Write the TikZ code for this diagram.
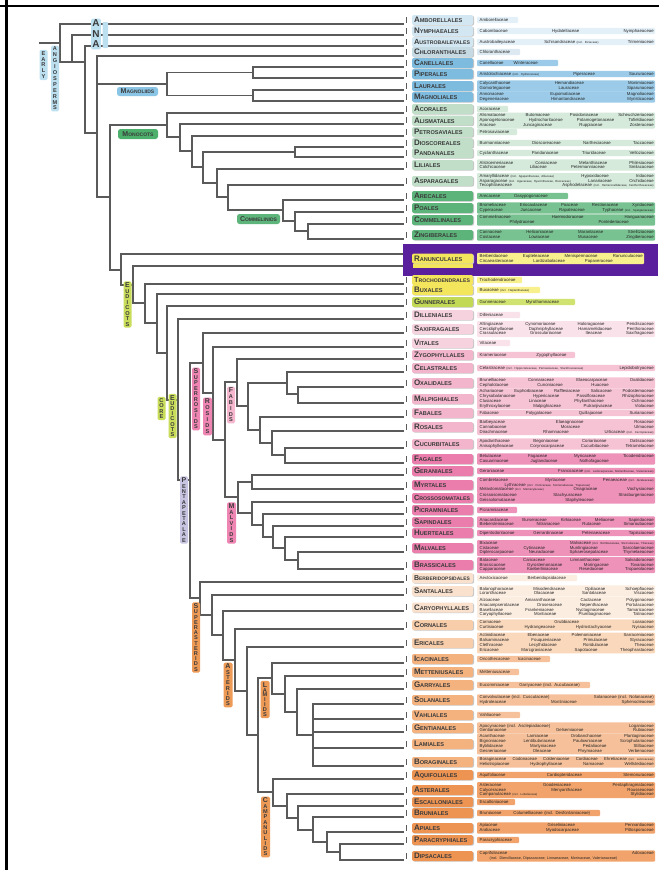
\documentclass[tikz,border=0pt]{standalone}
\usepackage{fontspec}
\usepackage{graphicx}
\setmainfont{Liberation Sans}
\definecolor{treeg}{HTML}{5A5A5A}
\definecolor{anaO}{HTML}{D3E7F2}\definecolor{anaF}{HTML}{E3F0F8}
\definecolor{chlO}{HTML}{C6DAE4}\definecolor{chlF}{HTML}{DCE9F0}
\definecolor{magO}{HTML}{7DBBDF}\definecolor{magF}{HTML}{9BCBE8}
\definecolor{monO}{HTML}{C0DEC8}\definecolor{monF}{HTML}{D5EADB}
\definecolor{comO}{HTML}{5DB47B}\definecolor{comF}{HTML}{78C291}
\definecolor{eudO}{HTML}{F3E55C}\definecolor{eudF}{HTML}{F8F08C}
\definecolor{gunO}{HTML}{C2D955}\definecolor{gunF}{HTML}{D0E370}
\definecolor{srO}{HTML}{F6D2DE}\definecolor{srF}{HTML}{FAE2EA}
\definecolor{fabO}{HTML}{F3B5CB}\definecolor{fabF}{HTML}{F6C3D5}
\definecolor{malO}{HTML}{EA7DAC}\definecolor{malF}{HTML}{EE92B9}
\definecolor{saO}{HTML}{FAE1CE}\definecolor{saF}{HTML}{FCEDE1}
\definecolor{astO}{HTML}{F8CDAA}\definecolor{astF}{HTML}{FAD8BC}
\definecolor{lamO}{HTML}{F4B27F}\definecolor{lamF}{HTML}{F6C19A}
\definecolor{camO}{HTML}{EE9453}\definecolor{camF}{HTML}{F1A36B}
\definecolor{ordtxt}{HTML}{3A3A3A}
\definecolor{famtxt}{HTML}{262626}
\definecolor{labA}{HTML}{BDE0F0}
\definecolor{labM}{HTML}{8AC5E5}
\definecolor{labMo}{HTML}{4CAF6C}
\definecolor{labC}{HTML}{5EB57C}
\definecolor{labE}{HTML}{C9DD5B}
\definecolor{labR}{HTML}{EE85B3}
\definecolor{labF}{HTML}{F5B6CE}
\definecolor{labP}{HTML}{C8C5E2}
\definecolor{labS}{HTML}{EE9A57}
\definecolor{purp}{HTML}{5A1F9D}
\newsavebox{\obx}
\newcommand{\fitord}[1]{\sbox{\obx}{#1}\ifdim\wd\obx>56pt\resizebox{56pt}{!}{\usebox{\obx}}\else\usebox{\obx}\fi}
\newcommand{\inc}[1]{{\fontsize{2.9}{3}\selectfont #1}}
\newcommand{\fl}[1]{{\fontsize{8}{8}\selectfont #1}}
\newcommand{\fv}[1]{{\fontsize{7}{6}\selectfont #1}}
\newcommand{\vseg}[3]{\draw[tree] (#1,#2) -- (#1,#3);}
\newcommand{\hseg}[3]{\draw[tree] (#1,#3) -- (#2,#3);}
\newcommand{\term}[2]{\draw[tree] (#1,#2) -- (403,#2);}
\newcommand{\orow}[8]{%
  \pgfmathsetmacro{\hh}{#7*2.4+0.8}%
  \pgfmathsetmacro{\tw}{#6-481}%
  \fill[black!22, rounded corners=2pt] (413,#1-4.3) rectangle (474,#1+5.7);
  \node[obox, fill=#2] (o#4#5) at (442.5,#1) {\fitord{\fl{#4}{\fontsize{5.6}{7}\selectfont #5}}};
  \fill[#3, rounded corners=1pt] (477,#1-\hh) rectangle (#6,#1+\hh);
  \node[ftext, text width=\tw pt] (f#4#5) at (479.5,#1) {#8};
}
\tikzset{
  tree/.style={draw=treeg, line width=1.1pt, line cap=rect},
  obox/.style={rounded corners=2pt, minimum height=10pt, text width=57pt, inner xsep=2pt, inner ysep=0pt, align=left, text=ordtxt, font=\bfseries},
  ftext/.style={anchor=west, inner sep=0pt, align=left, text=famtxt, font=\fontsize{4.3}{4.8}\selectfont},
  vlab/.style={rounded corners=1.5pt, inner xsep=1.2pt, inner ysep=1.5pt, align=center, text=ordtxt},
  hlab/.style={rounded corners=2.5pt, inner sep=1pt, text=ordtxt, font=\bfseries\fontsize{5}{5}\selectfont},
}
\begin{document}
\begin{tikzpicture}[x=1pt,y=-1pt]
\useasboundingbox (0,0) rectangle (659,870);
\fill[white] (0,0) rectangle (659,870);
% frame
\draw[black, line width=2.6pt] (0,6) -- (659,6);
\draw[black, line width=2.6pt] (6.5,0) -- (6.5,870);

% ---------- tree ----------
% basal
\hseg{40}{60}{43}
\vseg{60}{24}{62}\term{60}{24}
\hseg{60}{85}{62}
\vseg{72}{35}{62}\term{72}{35}
\vseg{85}{46}{133}\term{85}{46}
\hseg{85}{97}{133}
\vseg{97}{56}{197}\term{97}{56}
% magnoliids
\hseg{97}{167}{84}\vseg{167}{72.5}{95.5}
\hseg{167}{253}{72.5}\vseg{253}{67}{78}\term{253}{67}\term{253}{78}
\hseg{167}{253}{95.5}\vseg{253}{90}{101}\term{253}{90}\term{253}{101}
% monocots + eudicots
\hseg{97}{110}{197}\vseg{110}{125}{270}
\hseg{110}{167}{125}\vseg{167}{113}{137}\term{167}{113}
\hseg{167}{180}{137}\vseg{180}{124}{151}\term{180}{124}
\hseg{180}{192}{151}\vseg{192}{136}{167}\term{192}{136}
\hseg{192}{203}{167}\vseg{203}{152}{183}
\hseg{203}{295}{152}\vseg{295}{147}{157}\term{295}{147}\term{295}{157}
\hseg{203}{217}{183}\vseg{217}{169}{197}\term{217}{169}
\hseg{217}{228}{197}\vseg{228}{185}{210}\term{228}{185}
\hseg{228}{283}{210}\vseg{283}{200}{221}\term{283}{200}
\hseg{283}{295}{221}\vseg{295}{212}{231}\term{295}{212}
\hseg{295}{308}{231}\vseg{308}{224}{239}\term{308}{224}\term{308}{239}
% eudicots
\hseg{110}{121}{270}\vseg{121}{254}{285}\term{121}{254}
\hseg{121}{133}{285}\vseg{133}{266}{303}\term{133}{266}
\hseg{133}{145}{303}\vseg{145}{284}{323}\term{145}{284}
\hseg{145}{157}{323}\vseg{157}{294}{353}\term{157}{294}
\hseg{157}{167}{353}\vseg{167}{306}{400}\term{167}{306}
\hseg{167}{178}{400}\vseg{178}{319}{480}\term{178}{319}
\hseg{178}{190}{480}\vseg{190}{363}{598}
% superrosids
\hseg{190}{203}{363}\vseg{203}{333}{393}\term{203}{333}
\hseg{203}{213}{393}\vseg{213}{347}{440}\term{213}{347}
\hseg{213}{225}{440}\vseg{225}{382}{497}
% fabids
\hseg{225}{237}{382}\vseg{237}{359}{406}\term{237}{359}
\hseg{237}{248}{406}\vseg{248}{383}{430}
\hseg{248}{287}{383}\vseg{287}{372}{394}\term{287}{372}
\hseg{287}{298}{394}\vseg{298}{387}{403}\term{298}{387}\term{298}{403}
\hseg{248}{260}{430}\vseg{260}{417}{443}\term{260}{417}
\hseg{260}{272}{443}\vseg{272}{431}{455}\term{272}{431}
\hseg{272}{285}{455}\vseg{285}{448}{463}\term{285}{448}\term{285}{463}
% malvids
\hseg{225}{238}{497}\vseg{238}{482}{513}
\hseg{238}{252}{482}\vseg{252}{475}{489}\term{252}{475}\term{252}{489}
\hseg{238}{252}{513}\vseg{252}{502}{525}\term{252}{502}
\hseg{252}{263}{525}\vseg{263}{514}{537}\term{263}{514}
\hseg{263}{273}{537}\vseg{273}{526}{548}\term{273}{526}
\hseg{273}{285}{548}\vseg{285}{537}{560}\term{285}{537}
\hseg{285}{298}{560}\vseg{298}{552}{569}\term{298}{552}\term{298}{569}
% superasterids
\hseg{190}{200}{598}\vseg{200}{582}{615}\term{200}{582}
\hseg{200}{212}{615}\vseg{212}{595}{635}\term{212}{595}
\hseg{212}{223}{635}\vseg{223}{611}{660}\term{223}{611}
\hseg{223}{235}{660}\vseg{235}{629}{691}\term{235}{629}
\hseg{235}{247}{691}\vseg{247}{647}{735}\term{247}{647}
\hseg{247}{258}{735}\vseg{258}{678}{792}
% lamiids
\hseg{258}{272}{678}\vseg{272}{663}{694}\term{272}{663}
\hseg{272}{285}{694}\vseg{285}{676}{712}\term{285}{676}
\hseg{285}{297}{712}\vseg{297}{689}{735}\term{297}{689}
\hseg{297}{313}{735}\vseg{313}{704}{766}
\term{313}{704}\term{313}{719}\term{313}{732}\term{313}{748}\term{313}{766}
% campanulids
\hseg{258}{273}{792}\vseg{273}{779}{806}\term{273}{779}
\hseg{273}{287}{806}\vseg{287}{794}{818}\term{287}{794}
\hseg{287}{298}{818}\vseg{298}{806}{830}\term{298}{806}
\hseg{298}{313}{830}\vseg{313}{817}{842}\term{313}{817}
\hseg{313}{327}{842}\vseg{327}{832}{852}\term{327}{832}
\hseg{327}{340}{852}\vseg{340}{844}{860}\term{340}{844}\term{340}{860}

% ticks
\foreach \yy in {20,31,42,52,63,74,86,97,109,120,132,143,153,165,181,196,208,220,235,280,290,302,315,329,343,355,368,383,399,413,427,444,459,471,485,498,510,522,533,548,565,578,591,607,625,643,659,672,685,700,715,728,744,762,775,790,802,813,828,840,856}
  \draw[treeg, line width=0.9pt] (406,\yy-3) -- (406,\yy+3);

% purple highlight
\fill[purp] (403,244) rectangle (658,276);
\fill[eudO] (413,263.5) rectangle (473,267.5);

% ---------- orders ----------
\orow{20}{anaO}{anaF}{A}{MBORELLALES}{518}{1}{Amborellaceae}
\orow{31}{anaO}{anaF}{N}{YMPHAEALES}{655}{1}{Cabombaceae\hfill Hydatellaceae\hfill Nymphaeaceae}
\orow{42}{anaO}{anaF}{A}{USTROBAILEYALES}{655}{1}{Austrobaileyaceae\hfill Schisandraceae \inc{(incl. Illiciaceae)}\hfill Trimeniaceae}
\orow{52}{chlO}{chlF}{C}{HLORANTHALES}{520}{1}{Chloranthaceae}
\orow{63}{magO}{magF}{C}{ANELLALES}{558}{1}{Canellaceae\hspace{10pt}Winteraceae}
\orow{74}{magO}{magF}{P}{IPERALES}{655}{1}{Aristolochiaceae \inc{(incl. Hydnoraceae)}\hfill Piperaceae\hfill Saururaceae}
\orow{86}{magO}{magF}{L}{AURALES}{655}{2}{Calycanthaceae\hfill Hernandiaceae\hfill Monimiaceae\\Gomortegaceae\hfill Lauraceae\hfill Siparunaceae}
\orow{97}{magO}{magF}{M}{AGNOLIALES}{655}{2}{Annonaceae\hfill Eupomatiaceae\hfill Magnoliaceae\\Degeneriaceae\hfill Himantandraceae\hfill Myristicaceae}
\orow{109}{monO}{monF}{A}{CORALES}{508}{1}{Acoraceae}
\orow{120.5}{monO}{monF}{A}{LISMATALES}{655}{3}{Alismataceae\hfill Butomaceae\hfill Posidoniaceae\hfill Scheuchzeriaceae\\Aponogetonaceae\hfill Hydrocharitaceae\hfill Potamogetonaceae\hfill Tofieldiaceae\\Araceae\hfill Juncaginaceae\hfill Ruppiaceae\hfill Zosteraceae}
\orow{132}{monO}{monF}{P}{ETROSAVIALES}{517}{1}{Petrosaviaceae}
\orow{143}{monO}{monF}{D}{IOSCOREALES}{655}{1}{Burmanniaceae\hfill Dioscoreaceae\hfill Nartheciaceae\hfill Taccaceae}
\orow{153}{monO}{monF}{P}{ANDANALES}{655}{1}{Cyclanthaceae\hfill Pandanaceae\hfill Triuridaceae\hfill Velloziaceae}
\orow{165}{monO}{monF}{L}{ILIALES}{655}{2}{Alstroemeriaceae\hfill Corsiaceae\hfill Melanthiaceae\hfill Philesiaceae\\Colchicaceae\hfill Liliaceae\hfill Petermanniaceae\hfill Smilacaceae}
\orow{181}{monO}{monF}{A}{SPARAGALES}{655}{3}{Amaryllidaceae \inc{(incl. Agapanthaceae, Alliaceae)}\hfill Hypoxidaceae\hfill Iridaceae\\Asparagaceae \inc{(incl. Agavaceae, Hyacinthaceae, Ruscaceae)}\hfill Lanariaceae\hfill Orchidaceae\\Tecophilaeaceae\hfill Asphodelaceae \inc{(incl. Hemerocallidaceae, Xanthorrhoeaceae)}}
\orow{196}{comO}{comF}{A}{RECALES}{568}{1}{Arecaceae\hspace{14pt}Dasypogonaceae}
\orow{208}{comO}{comF}{P}{OALES}{655}{2}{Bromeliaceae\hfill Eriocaulaceae\hfill Poaceae\hfill Restionaceae\hfill Xyridaceae\\Cyperaceae\hfill Juncaceae\hfill Rapateaceae\hfill Typhaceae \inc{(incl. Sparganiaceae)}}
\orow{220}{comO}{comF}{C}{OMMELINALES}{655}{2}{Commelinaceae\hfill Haemodoraceae\hfill Hanguanaceae\\\hspace*{30pt}Philydraceae\hfill Pontederiaceae\hspace*{25pt}}
\orow{235}{comO}{comF}{Z}{INGIBERALES}{655}{2}{Cannaceae\hfill Heliconiaceae\hfill Marantaceae\hfill Strelitziaceae\\Costaceae\hfill Lowiaceae\hfill Musaceae\hfill Zingiberaceae}
\orow{258.5}{eudO}{eudF}{R}{ANUNCULALES}{644}{2}{Berberidaceae\hfill Eupteleaceae\hfill Menispermaceae\hfill Ranunculaceae\\Circaeasteraceae\hfill Lardizabalaceae\hfill Papaveraceae\hspace*{30pt}}
\orow{280}{eudO}{eudF}{T}{ROCHODENDRALES}{522}{1}{Trochodendraceae}
\orow{290}{eudO}{eudF}{B}{UXALES}{540}{1}{Buxaceae \inc{(incl. Haptanthaceae)}}
\orow{302}{gunO}{gunF}{G}{UNNERALES}{575}{1}{Gunneraceae\hspace{20pt}Myrothamnaceae}
\orow{315}{srO}{srF}{D}{ILLENIALES}{520}{1}{Dilleniaceae}
\orow{329}{srO}{srF}{S}{AXIFRAGALES}{655}{3}{Altingiaceae\hfill Cynomoriaceae\hfill Haloragaceae\hfill Peridiscaceae\\Cercidiphyllaceae\hfill Daphniphyllaceae\hfill Hamamelidaceae\hfill Penthoraceae\\Crassulaceae\hfill Grossulariaceae\hfill Iteaceae\hfill Saxifragaceae}
\orow{343}{srO}{srF}{V}{ITALES}{510}{1}{Vitaceae}
\orow{355}{fabO}{fabF}{Z}{YGOPHYLLALES}{575}{1}{Krameriaceae\hspace{30pt}Zygophyllaceae}
\orow{368}{fabO}{fabF}{C}{ELASTRALES}{655}{1}{Celastraceae \inc{(incl. Hippocrateaceae, Parnassiaceae, Stackhousiaceae)}\hfill Lepidobotryaceae}
\orow{383}{fabO}{fabF}{O}{XALIDALES}{655}{2}{Brunelliaceae\hfill Connaraceae\hfill Elaeocarpaceae\hfill Oxalidaceae\\Cephalotaceae\hfill Cunoniaceae\hfill Huaceae\hspace*{45pt}}
\orow{399}{fabO}{fabF}{M}{ALPIGHIALES}{655}{4}{Achariaceae\hfill Euphorbiaceae\hfill Rafflesiaceae\hfill Salicaceae\hfill Podostemaceae\\Chrysobalanaceae\hfill Hypericaceae\hfill Passifloraceae\hfill Rhizophoraceae\\Clusiaceae\hfill Linaceae\hfill Phyllanthaceae\hfill Ochnaceae\\Erythroxylaceae\hfill Malpighiaceae\hfill Putranjivaceae\hfill Violaceae}
\orow{413}{fabO}{fabF}{F}{ABALES}{655}{1}{Fabaceae\hfill Polygalaceae\hfill Quillajaceae\hfill Surianaceae}
\orow{427}{fabO}{fabF}{R}{OSALES}{655}{3}{Barbeyaceae\hfill Elaeagnaceae\hfill Rosaceae\hspace*{25pt}\\Cannabaceae\hfill Moraceae\hfill Ulmaceae\hspace*{25pt}\\Dirachmaceae\hfill Rhamnaceae\hfill Urticaceae \inc{(incl. Cecropiaceae)}}
\orow{444}{fabO}{fabF}{C}{UCURBITALES}{655}{2}{Apodanthaceae\hfill Begoniaceae\hfill Coriariaceae\hfill Datiscaceae\\Anisophylleaceae\hfill Corynocarpaceae\hfill Cucurbitaceae\hfill Tetramelaceae}
\orow{459}{malO}{malF}{F}{AGALES}{655}{2}{Betulaceae\hfill Fagaceae\hfill Myricaceae\hfill Ticodendraceae\\Casuarinaceae\hfill Juglandaceae\hfill Nothofagaceae\hspace*{45pt}}
\orow{471}{malO}{malF}{G}{ERANIALES}{655}{1}{Geraniaceae\hfill Francoaceae \inc{(incl. Ledocarpaceae, Melianthaceae, Vivianiaceae)}}
\orow{485}{malO}{malF}{M}{YRTALES}{655}{3}{Combretaceae\hfill Myrtaceae\hfill Penaeaceae \inc{(incl. Alzateaceae)}\\\hspace*{25pt}Lythraceae \inc{(incl. Punicaceae, Sonneratiaceae, Trapaceae)}\hfill\null\\Melastomataceae \inc{(incl. Memecylaceae)}\hfill Onagraceae\hfill Vochysiaceae}
\orow{498}{malO}{malF}{C}{ROSSOSOMATALES}{655}{2}{Crossosomataceae\hfill Stachyuraceae\hfill Strasburgeriaceae\\Geissolomataceae\hfill Staphyleaceae\hspace*{60pt}}
\orow{510}{malO}{malF}{P}{ICRAMNIALES}{517}{1}{Picramniaceae}
\orow{522}{malO}{malF}{S}{APINDALES}{655}{2}{Anacardiaceae\hfill Burseraceae\hfill Kirkiaceae\hfill Meliaceae\hfill Sapindaceae\\Biebersteiniaceae\hfill Nitrariaceae\hfill Rutaceae\hfill Simaroubaceae}
\orow{533}{malO}{malF}{H}{UERTEALES}{655}{1}{Dipentodontaceae\hfill Gerrardinaceae\hfill Petenaeaceae\hfill Tapisciaceae}
\orow{548}{malO}{malF}{M}{ALVALES}{655}{3}{Bixaceae\hfill Malvaceae \inc{(incl. Bombacaceae, Sterculiaceae, Tiliaceae)}\\Cistaceae\hfill Cytinaceae\hfill Muntingiaceae\hfill Sarcolaenaceae\\Dipterocarpaceae\hfill Neuradaceae\hfill Sphaerosepalaceae\hfill Thymelaeaceae}
\orow{565}{malO}{malF}{B}{RASSICALES}{655}{3}{Bataceae\hfill Caricaceae\hfill Limnanthaceae\hfill Salvadoraceae\\Brassicaceae\hfill Gyrostemonaceae\hfill Moringaceae\hfill Tovariaceae\\Capparaceae\hfill Koeberliniaceae\hfill Resedaceae\hfill Tropaeolaceae}
\orow{578}{saO}{saF}{B}{ERBERIDOPSIDALES}{577}{1}{Aextoxicaceae\hspace{20pt}Berberidopsidaceae}
\orow{591}{saO}{saF}{S}{ANTALALES}{655}{2}{Balanophoraceae\hfill Misodendraceae\hfill Opiliaceae\hfill Schoepfiaceae\\Loranthaceae\hfill Olacaceae\hfill Santalaceae\hfill Viscaceae}
\orow{607.5}{saO}{saF}{C}{ARYOPHYLLALES}{655}{4}{Aizoaceae\hfill Amaranthaceae\hfill Cactaceae\hfill Polygonaceae\\Anacampserotaceae\hfill Droseraceae\hfill Nepenthaceae\hfill Portulacaceae\\Basellaceae\hfill Frankeniaceae\hfill Nyctaginaceae\hfill Tamaricaceae\\Caryophyllaceae\hfill Montiaceae\hfill Plumbaginaceae\hfill Talinaceae}
\orow{625}{astO}{astF}{C}{ORNALES}{655}{2}{Cornaceae\hfill Grubbiaceae\hfill Loasaceae\\Curtisiaceae\hfill Hydrangeaceae\hfill Hydrostachyaceae\hfill Nyssaceae}
\orow{643}{astO}{astF}{E}{RICALES}{655}{4}{Actinidiaceae\hfill Ebenaceae\hfill Polemoniaceae\hfill Sarraceniaceae\\Balsaminaceae\hfill Fouquieriaceae\hfill Primulaceae\hfill Styracaceae\\Clethraceae\hfill Lecythidaceae\hfill Roridulaceae\hfill Theaceae\\Ericaceae\hfill Marcgraviaceae\hfill Sapotaceae\hfill Theophrastaceae}
\orow{659}{lamO}{lamF}{I}{CACINALES}{550}{1}{Oncothecaceae\hspace{8pt}Icacinaceae}
\orow{672}{lamO}{lamF}{M}{ETTENIUSALES}{519}{1}{Metteniusaceae}
\orow{685}{lamO}{lamF}{G}{ARRYALES}{590}{1}{Eucommiaceae\hspace{10pt}Garryaceae (incl. Aucubaceae)}
\orow{700}{lamO}{lamF}{S}{OLANALES}{655}{2}{Convolvulaceae (incl. Cuscutaceae)\hfill Solanaceae (incl. Nolanaceae)\\Hydroleaceae\hfill Montiniaceae\hfill Sphenocleaceae}
\orow{715}{lamO}{lamF}{V}{AHLIALES}{520}{1}{Vahliaceae}
\orow{728}{lamO}{lamF}{G}{ENTIANALES}{655}{2}{Apocynaceae (incl. Asclepiadaceae)\hfill Loganiaceae\\Gentianaceae\hfill Gelsemiaceae\hfill Rubiaceae}
\orow{744}{lamO}{lamF}{L}{AMIALES}{655}{4}{Acanthaceae\hfill Lamiaceae\hfill Orobanchaceae\hfill Plantaginaceae\\Bignoniaceae\hfill Lentibulariaceae\hfill Paulowniaceae\hfill Scrophulariaceae\\Byblidaceae\hfill Martyniaceae\hfill Pedaliaceae\hfill Stilbaceae\\Gesneriaceae\hfill Oleaceae\hfill Phrymaceae\hfill Verbenaceae}
\orow{762}{lamO}{lamF}{B}{ORAGINALES}{655}{2}{Boraginaceae\hfill Codonaceae\hfill Coldeniaceae\hfill Cordiaceae\hfill Ehretiaceae \inc{(incl. Lennoaceae)}\\Heliotropiaceae\hfill Hydrophyllaceae\hfill Namaceae\hfill Wellstediaceae}
\orow{775}{camO}{camF}{A}{QUIFOLIALES}{655}{1}{Aquifoliaceae\hfill Cardiopteridaceae\hfill Stemonuraceae}
\orow{790}{camO}{camF}{A}{STERALES}{655}{3}{Asteraceae\hfill Goodeniaceae\hfill Pentaphragmataceae\\Calyceraceae\hfill Menyanthaceae\hfill Rousseaceae\\Campanulaceae \inc{(incl. Lobeliaceae)}\hfill Stylidiaceae}
\orow{802}{camO}{camF}{E}{SCALLONIALES}{515}{1}{Escalloniaceae}
\orow{813}{camO}{camF}{B}{RUNIALES}{600}{1}{Bruniaceae\hspace{12pt}Columelliaceae (incl. Desfontainiaceae)}
\orow{828}{camO}{camF}{A}{PIALES}{655}{2}{Apiaceae\hfill Griseliniaceae\hfill Pennantiaceae\\Araliaceae\hfill Myodocarpaceae\hfill Pittosporaceae}
\orow{840}{camO}{camF}{P}{ARACRYPHIALES}{519}{1}{Paracryphiaceae}
\orow{856}{camO}{camF}{D}{IPSACALES}{655}{2}{Caprifoliaceae\hfill Adoxaceae\\\hspace*{10pt}{\fontsize{3.7}{4.8}\selectfont (incl. Diervillaceae, Dipsacaceae, Linnaeaceae, Morinaceae, Valerianaceae)}}

% ---------- clade labels ----------
\node[vlab, fill=labA, minimum width=8pt, font=\bfseries\fontsize{5.6}{5.8}\selectfont] (early) at (43.5,65) {E\\A\\R\\L\\Y};
\node[vlab, fill=labA, minimum width=8pt, font=\bfseries\fontsize{5.6}{5.9}\selectfont] (angio) at (55,78.5) {A\\N\\G\\I\\O\\S\\P\\E\\R\\M\\S};
\node[vlab, fill=labA, minimum width=9pt, font=\bfseries\fontsize{10}{10.5}\selectfont] (ana) at (96,34) {A\\N\\A};
\fill[labA, rounded corners=1pt] (102.5,22) rectangle (108,48);
\node[hlab, fill=labM, minimum width=41pt, minimum height=9pt] (magl) at (137.5,91.5) {\fv{M}AGNOLIIDS};
\node[hlab, fill=labMo, minimum width=40pt, minimum height=10pt] (monol) at (138,134) {\fv{M}ONOCOTS};
\node[hlab, fill=labC, minimum width=43pt, minimum height=10pt] (comml) at (258.5,219) {\fv{C}OMMELINIDS};
\node[vlab, fill=labE, minimum width=8pt, font=\bfseries\fontsize{5.6}{5.5}\selectfont] (eudl) at (127.5,304.5) {\fv{E}\\U\\D\\I\\C\\O\\T\\S};
\node[vlab, fill=labE, minimum width=8pt, font=\bfseries\fontsize{5.6}{5.5}\selectfont] (corel) at (161.5,408.5) {C\\O\\R\\E};
\node[vlab, fill=labE, minimum width=8pt, font=\bfseries\fontsize{5.6}{5.2}\selectfont] (ceudl) at (172.5,416) {\fv{E}\\U\\D\\I\\C\\O\\T\\S};
\node[vlab, fill=labR, minimum width=8pt, font=\bfseries\fontsize{5.6}{5.5}\selectfont] (srl) at (196,399) {\fv{S}\\U\\P\\E\\R\\R\\O\\S\\I\\D\\S};
\node[vlab, fill=labR, minimum width=9pt, font=\bfseries\fontsize{5.6}{6}\selectfont] (rosl) at (207.5,416.5) {\fv{R}\\O\\S\\I\\D\\S};
\node[vlab, fill=labF, minimum width=8pt, font=\bfseries\fontsize{5.6}{5.8}\selectfont] (fabl) at (231,405) {\fv{F}\\A\\B\\I\\D\\S};
\node[vlab, fill=labR, minimum width=9pt, font=\bfseries\fontsize{5.6}{5.6}\selectfont] (malvl) at (231.5,523) {\fv{M}\\A\\L\\V\\I\\D\\S};
\node[vlab, fill=labP, minimum width=8pt, font=\bfseries\fontsize{5.6}{5.4}\selectfont] (pentl) at (184,510) {\fv{P}\\E\\N\\T\\A\\P\\E\\T\\A\\L\\A\\E};
\node[vlab, fill=labS, minimum width=8pt, font=\bfseries\fontsize{5.6}{5.2}\selectfont] (sal) at (196,637.5) {\fv{S}\\U\\P\\E\\R\\A\\S\\T\\E\\R\\I\\D\\S};
\node[vlab, fill=labS, minimum width=9pt, font=\bfseries\fontsize{5.6}{5.3}\selectfont] (astl) at (228,685) {\fv{A}\\S\\T\\E\\R\\I\\D\\S};
\node[vlab, fill=labS, minimum width=9pt, font=\bfseries\fontsize{5.6}{4.9}\selectfont] (laml) at (265,699.5) {\fv{L}\\A\\M\\I\\I\\D\\S};
\node[vlab, fill=labS, minimum width=9pt, font=\bfseries\fontsize{5.6}{5.3}\selectfont] (caml) at (265.5,827) {\fv{C}\\A\\M\\P\\A\\N\\U\\L\\I\\D\\S};
\end{tikzpicture}
\end{document}
